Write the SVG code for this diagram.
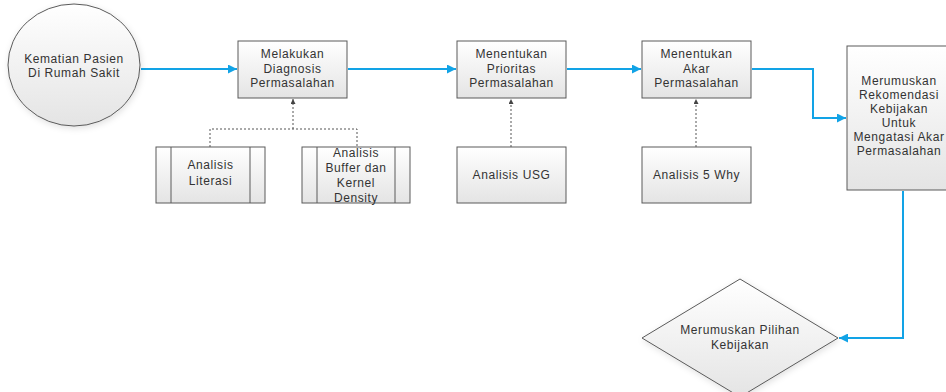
<svg xmlns="http://www.w3.org/2000/svg" width="946" height="392" viewBox="0 0 946 392">
<defs>
<linearGradient id="g" x1="0" y1="0" x2="0" y2="1">
<stop offset="0" stop-color="#ffffff"/>
<stop offset="1" stop-color="#e4e4e4"/>
</linearGradient>
<filter id="sh" x="-10%" y="-10%" width="120%" height="120%">
<feDropShadow dx="1" dy="2" stdDeviation="3" flood-color="#000" flood-opacity="0.12"/>
</filter>
<marker id="ab" viewBox="0 0 10 10" refX="10" refY="5" markerWidth="9" markerHeight="9" markerUnits="userSpaceOnUse" orient="auto">
<path d="M0,0 L10,5 L0,10 z" fill="#12a3e6"/>
</marker>
<marker id="ad" viewBox="0 0 10 10" refX="10" refY="5" markerWidth="5" markerHeight="5" markerUnits="userSpaceOnUse" orient="auto">
<path d="M0,0 L10,5 L0,10 z" fill="#444"/>
</marker>
</defs>
<style>
.n{fill:url(#g);stroke:#5a5a5a;stroke-width:1}
.t{font-family:"Liberation Sans",Arial,sans-serif;font-size:12px;letter-spacing:0.6px;fill:#333;text-anchor:middle}
.c{fill:none;stroke:#12a3e6;stroke-width:2;marker-end:url(#ab)}
.d{fill:none;stroke:#555;stroke-width:1;stroke-dasharray:2,2}
.da{marker-end:url(#ad)}
</style>
<rect width="946" height="392" fill="#fff"/>
<g id="connectors">
<path class="c" d="M141,69 L237,69"/>
<path class="c" d="M348,69 L456,69"/>
<path class="c" d="M567,69 L641,69"/>
<path class="c" d="M752,69 L813,69 L813,118 L846,118"/>
<path class="c" d="M903,191 L903,338 L839,338"/>
<path class="d" d="M210,147 L210,129 L357,129 L357,147"/>
<path class="d da" d="M293,129 L293,99"/>
<path class="d da" d="M511,147 L511,99"/>
<path class="d da" d="M696,147 L696,99"/>
</g>
<g id="n-start">
<ellipse class="n" cx="74" cy="65" rx="66" ry="61" filter="url(#sh)"/>
<text class="t" x="74" y="63">Kematian Pasien</text>
<text class="t" x="74" y="77">Di Rumah Sakit</text>
</g>
<g id="n-diagnosis">
<rect class="n" x="238" y="41" width="109" height="57"/>
<text class="t" x="292.5" y="58">Melakukan</text>
<text class="t" x="292.5" y="72.5">Diagnosis</text>
<text class="t" x="292.5" y="87">Permasalahan</text>
</g>
<g id="n-prioritas">
<rect class="n" x="457" y="41" width="109" height="57"/>
<text class="t" x="511.5" y="58">Menentukan</text>
<text class="t" x="511.5" y="72.5">Prioritas</text>
<text class="t" x="511.5" y="87">Permasalahan</text>
</g>
<g id="n-akar">
<rect class="n" x="642" y="41" width="109" height="57"/>
<text class="t" x="696.5" y="58">Menentukan</text>
<text class="t" x="696.5" y="72.5">Akar</text>
<text class="t" x="696.5" y="87">Permasalahan</text>
</g>
<g id="n-rekomendasi">
<rect class="n" x="847" y="46" width="104" height="144"/>
<text class="t" x="899" y="85">Merumuskan</text>
<text class="t" x="899" y="99">Rekomendasi</text>
<text class="t" x="899" y="113">Kebijakan</text>
<text class="t" x="899" y="127">Untuk</text>
<text class="t" x="899" y="141">Mengatasi Akar</text>
<text class="t" x="899" y="155">Permasalahan</text>
</g>
<g id="n-literasi">
<rect class="n" x="156" y="147" width="109" height="56"/>
<line x1="171" y1="147" x2="171" y2="203" stroke="#5a5a5a"/>
<line x1="250" y1="147" x2="250" y2="203" stroke="#5a5a5a"/>
<text class="t" x="210.5" y="169">Analisis</text>
<text class="t" x="210.5" y="185">Literasi</text>
</g>
<g id="n-buffer">
<rect class="n" x="302" y="147" width="108" height="56"/>
<line x1="317" y1="147" x2="317" y2="203" stroke="#5a5a5a"/>
<line x1="395" y1="147" x2="395" y2="203" stroke="#5a5a5a"/>
<text class="t" x="356" y="157">Analisis</text>
<text class="t" x="356" y="172">Buffer dan</text>
<text class="t" x="356" y="187">Kernel</text>
<text class="t" x="356" y="202">Density</text>
</g>
<g id="n-usg">
<rect class="n" x="457" y="147" width="109" height="56"/>
<text class="t" x="511.5" y="179">Analisis USG</text>
</g>
<g id="n-5why">
<rect class="n" x="642" y="147" width="109" height="56"/>
<text class="t" x="696.5" y="179">Analisis 5 Why</text>
</g>
<g id="n-pilihan">
<polygon class="n" points="740,279 838,338 740,397 642,338" filter="url(#sh)"/>
<text class="t" x="740" y="334">Merumuskan Pilihan</text>
<text class="t" x="740" y="349">Kebijakan</text>
</g>
</svg>
